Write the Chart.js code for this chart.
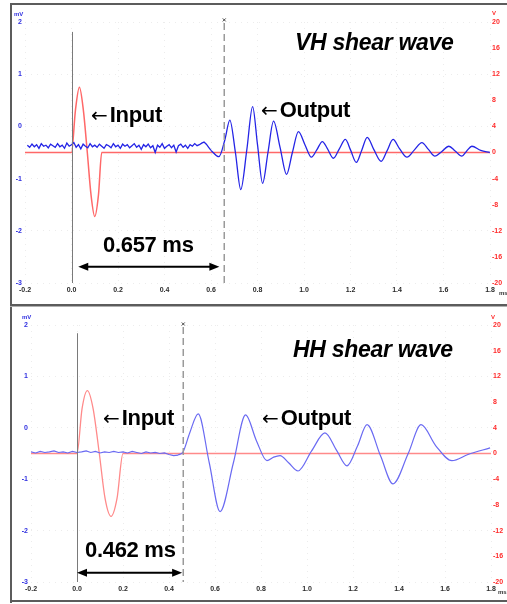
<!DOCTYPE html>
<html><head><meta charset="utf-8">
<script src="https://cdn.jsdelivr.net/npm/chart.js@4.4.0/dist/chart.umd.min.js"></script>
<style>
html,body{margin:0;padding:0;background:#fff;}
body{width:507px;height:604px;position:relative;overflow:hidden;font-family:"Liberation Sans",Arial,sans-serif;}
canvas{position:absolute;left:0;}
.frame{position:absolute;background:#5c5c5c;}
.lbl{position:absolute;white-space:nowrap;line-height:1;color:#000;font-weight:bold;letter-spacing:-0.3px;}
.lbl .ar{font-family:"DejaVu Sans",sans-serif;font-weight:normal;font-size:20px;letter-spacing:0;margin-right:2px;}
.unit{position:absolute;font-size:6px;font-weight:bold;line-height:1;white-space:nowrap;}
</style></head><body>
<canvas id="c1" width="507" height="305" style="top:0"></canvas>
<canvas id="c2" width="507" height="299" style="top:305px"></canvas>

<div class="frame" style="left:10px;top:3px;width:497px;height:2px"></div>
<div class="frame" style="left:10px;top:3px;width:2px;height:600px"></div>
<div class="frame" style="left:10px;top:304px;width:497px;height:2px"></div>
<div class="frame" style="left:10px;top:306px;width:497px;height:1px;background:#b0b0b0"></div>
<div class="frame" style="left:10px;top:600px;width:497px;height:2px"></div>

<div class="unit" style="left:14px;top:11px;color:#3030e0">mV</div>
<div class="unit" style="left:492px;top:10px;color:#ff2a2a">V</div>
<div class="unit" style="left:499px;top:290px;color:#333">ms</div>
<div class="unit" style="left:22px;top:314px;color:#3030e0">mV</div>
<div class="unit" style="left:491px;top:314px;color:#ff2a2a">V</div>
<div class="unit" style="left:498px;top:589px;color:#333">ms</div>

<div class="lbl" style="left:295px;top:31px;font-size:23px;font-style:italic">VH shear wave</div>
<div class="lbl" style="left:91px;top:104px;font-size:22px"><span class="ar">←</span>Input</div>
<div class="lbl" style="left:261px;top:99px;font-size:22px"><span class="ar">←</span>Output</div>
<div class="lbl" style="left:103px;top:234px;font-size:22px">0.657 ms</div>

<div class="lbl" style="left:293px;top:338px;font-size:23px;font-style:italic">HH shear wave</div>
<div class="lbl" style="left:103px;top:407px;font-size:22px"><span class="ar">←</span>Input</div>
<div class="lbl" style="left:262px;top:407px;font-size:22px"><span class="ar">←</span>Output</div>
<div class="lbl" style="left:85px;top:539px;font-size:22px">0.462 ms</div>

<script>
// ---- axis ticks ----
const timeTicks = [-0.2, 0, 0.2, 0.4, 0.6, 0.8, 1.0, 1.2, 1.4, 1.6, 1.8];
const timeTickLabels = ['-0.2','0.0','0.2','0.4','0.6','0.8','1.0','1.2','1.4','1.6','1.8'];
const mVTicks = [2, 1, 0, -1, -2, -3];
const mVTickLabels = ['2','1','0','-1','-2','-3'];
const vTicks = [20, 16, 12, 8, 4, 0, -4, -8, -12, -16, -20];
const vTickLabels = ['20','16','12','8','4','0','-4','-8','-12','-16','-20'];

// ---- VH shear wave ----
const vhInputT = [-0.2, 0, 0.017, 0.034, 0.051, 0.068, 0.084, 0.1, 0.116, 0.13, 1.8];
const vhInputV = [0, 0, 6.5, 10, 6.5, 0, -6.5, -9.8, -6.5, 0, 0];
const vhNoiseMV = [
 -0.36,-0.40,-0.34,-0.39,-0.35,-0.42,-0.33,-0.38,-0.36,-0.41,
 -0.34,-0.37,-0.40,-0.33,-0.39,-0.36,-0.42,-0.32,-0.38,-0.35,
 -0.31,-0.40,-0.35,-0.43,-0.34,-0.38,-0.41,-0.33,-0.39,-0.36,
 -0.40,-0.34,-0.38,-0.42,-0.35,-0.37,-0.41,-0.33,-0.39,-0.36,
 -0.42,-0.34,-0.38,-0.35,-0.41,-0.37,-0.33,-0.40,-0.36,-0.44,
 -0.35,-0.39,-0.34,-0.41,-0.37,-0.50,-0.36,-0.40,-0.33,-0.42,
 -0.38,-0.35,-0.41,-0.36,-0.49,-0.37,-0.34,-0.40,-0.36,-0.42,
 -0.35,-0.38,-0.33,-0.37,-0.35,-0.32,-0.30,-0.34,-0.40,-0.46];
const vhNoiseStart = -0.19, vhNoiseStep = 0.01;
const vhOutputT = [0.60, 0.634, 0.66, 0.681, 0.705, 0.728, 0.754, 0.779, 0.80, 0.822, 0.845, 0.869, 0.897, 0.925, 0.95, 0.976, 1.004, 1.032, 1.055, 1.079, 1.10, 1.126, 1.152, 1.178, 1.20, 1.225, 1.248, 1.272, 1.30, 1.332, 1.357, 1.383, 1.41, 1.443, 1.475, 1.507, 1.535, 1.563, 1.593, 1.623, 1.65, 1.679, 1.70, 1.722, 1.76, 1.799];
const vhOutputMV = [-0.46,-0.58,-0.25,0.12,-0.50,-1.21,-0.45,0.38,-0.35,-1.09,-0.50,0.10,-0.40,-0.92,-0.50,-0.10,-0.35,-0.59,-0.45,-0.29,-0.42,-0.61,-0.43,-0.25,-0.45,-0.69,-0.46,-0.21,-0.44,-0.67,-0.47,-0.25,-0.42,-0.59,-0.45,-0.31,-0.44,-0.57,-0.48,-0.38,-0.47,-0.57,-0.47,-0.38,-0.46,-0.50];
const vhDelay = 0.657;

// ---- HH shear wave ----
const hhInputT = [-0.2, 0, 0.022, 0.045, 0.07, 0.097, 0.122, 0.148, 0.174, 0.2, 1.8];
const hhInputV = [0, 0, 7, 9.8, 7, 0, -7, -9.8, -7, 0, 0];
const hhNoiseMV = [-0.47,-0.49,-0.46,-0.48,-0.47,-0.45,-0.48,-0.47,-0.49,-0.46,-0.48,-0.47,-0.45,-0.48,-0.46,-0.49,-0.47,-0.48,-0.46,-0.48,-0.47,-0.49,-0.46,-0.48,-0.50,-0.47,-0.49,-0.48,-0.50,-0.49,-0.52,-0.54,-0.53];
const hhNoiseStart = -0.2, hhNoiseStep = 0.02;
const hhOutputT = [0.44, 0.461, 0.49, 0.527, 0.575, 0.622, 0.68, 0.733, 0.78, 0.826, 0.855, 0.883, 0.92, 0.961, 1.02, 1.078, 1.13, 1.174, 1.22, 1.261, 1.32, 1.374, 1.44, 1.496, 1.56, 1.63, 1.70, 1.796];
const hhOutputMV = [-0.53, -0.47, -0.10, 0.27, -0.68, -1.63, -0.68, 0.25, -0.25, -0.64, -0.57, -0.54, -0.68, -0.84, -0.45, -0.10, -0.45, -0.74, -0.35, 0.06, -0.55, -1.09, -0.50, 0.06, -0.35, -0.64, -0.52, -0.39];
const hhDelay = 0.462;

function pts(ts, vs) { return ts.map((t, i) => ({x: t, y: vs[i]})); }
function gridPts(start, step, vs) { return vs.map((v, i) => ({x: +(start + i * step).toFixed(3), y: v})); }

const annot = {
  id: 'annot',
  afterDatasetsDraw(chart, args, o) {
    const {ctx, chartArea: a, scales: {x, y}} = chart;
    ctx.save();
    const xs = Math.round(x.getPixelForValue(o.solidT)) + 0.5;
    ctx.strokeStyle = '#7a7a7a'; ctx.lineWidth = 1;
    ctx.beginPath(); ctx.moveTo(xs, y.getPixelForValue(o.solidTop)); ctx.lineTo(xs, a.bottom); ctx.stroke();
    const xd = x.getPixelForValue(o.dashT);
    const yd = y.getPixelForValue(o.dashTop);
    ctx.strokeStyle = '#9a9a9a'; ctx.lineWidth = 1.5; ctx.setLineDash([7, 4]);
    ctx.beginPath(); ctx.moveTo(xd, yd + 3); ctx.lineTo(xd, a.bottom); ctx.stroke();
    ctx.setLineDash([]);
    ctx.strokeStyle = '#444'; ctx.lineWidth = 1;
    ctx.beginPath(); ctx.moveTo(xd - 1.5, yd - 1.5); ctx.lineTo(xd + 1.5, yd + 1.5);
    ctx.moveTo(xd + 1.5, yd - 1.5); ctx.lineTo(xd - 1.5, yd + 1.5); ctx.stroke();
    const ya = y.getPixelForValue(o.arrowY);
    const x1 = x.getPixelForValue(o.arrowFrom), x2 = x.getPixelForValue(o.arrowTo);
    const hl = 10, hw = 4;
    ctx.strokeStyle = '#000'; ctx.fillStyle = '#000'; ctx.lineWidth = 2;
    ctx.beginPath(); ctx.moveTo(x1 + hl - 1, ya); ctx.lineTo(x2 - hl + 1, ya); ctx.stroke();
    ctx.beginPath(); ctx.moveTo(x1, ya); ctx.lineTo(x1 + hl, ya - hw); ctx.lineTo(x1 + hl, ya + hw); ctx.closePath(); ctx.fill();
    ctx.beginPath(); ctx.moveTo(x2, ya); ctx.lineTo(x2 - hl, ya - hw); ctx.lineTo(x2 - hl, ya + hw); ctx.closePath(); ctx.fill();
    ctx.restore();
  }
};

const tickFont = {family: '"Liberation Sans", Arial, sans-serif', size: 7, weight: 'bold'};

function makeChart(id, c) {
  new Chart(document.getElementById(id), {
    type: 'line',
    data: {
      datasets: [
        {data: c.noise, yAxisID: 'y', borderColor: c.blue, borderWidth: c.blueW, tension: 0, pointRadius: 0},
        {data: c.output, yAxisID: 'y', borderColor: c.blue, borderWidth: c.blueW, cubicInterpolationMode: 'monotone', pointRadius: 0},
        {data: c.input, yAxisID: 'y2', borderColor: c.red, borderWidth: c.redW, cubicInterpolationMode: 'monotone', pointRadius: 0}
      ]
    },
    plugins: [annot],
    options: {
      responsive: false, animation: false, devicePixelRatio: 1,
      layout: {padding: {top: c.padTop, left: 0, right: 0, bottom: 0}},
      plugins: {legend: {display: false}, tooltip: {enabled: false}, annot: c.annot},
      scales: {
        x: {
          type: 'linear', min: -0.2, max: 1.8,
          afterBuildTicks: s => { s.ticks = timeTicks.map(v => ({value: v})); },
          afterFit: s => { s.height = c.xH; },
          ticks: {callback: (v, i) => timeTickLabels[i], font: tickFont, color: '#2a2a2a', padding: 3, maxRotation: 0, autoSkip: false},
          grid: {color: '#ececec', drawTicks: false},
          border: {display: false, dash: [1, 5]}
        },
        y: {
          position: 'left', min: -3, max: 2,
          afterBuildTicks: s => { s.ticks = mVTicks.map(v => ({value: v})); },
          afterFit: s => { s.width = c.leftW; },
          ticks: {callback: (v, i) => mVTickLabels[i], font: tickFont, color: '#3030e0', padding: 3, autoSkip: false},
          grid: {color: '#ececec', drawTicks: false},
          border: {display: false, dash: [1, 5]}
        },
        y2: {
          position: 'right', min: -20, max: 20,
          afterBuildTicks: s => { s.ticks = vTicks.map(v => ({value: v})); },
          afterFit: s => { s.width = c.rightW; },
          ticks: {callback: (v, i) => vTickLabels[i], font: tickFont, color: '#ff2a2a', padding: 2, autoSkip: false},
          grid: {drawOnChartArea: false, drawTicks: false},
          border: {display: false}
        }
      }
    }
  });
}

makeChart('c1', {
  noise: gridPts(vhNoiseStart, vhNoiseStep, vhNoiseMV),
  output: pts(vhOutputT, vhOutputMV),
  input: pts(vhInputT, vhInputV),
  blue: '#2424e6', blueW: 1.3, red: '#ff6868', redW: 1.5,
  padTop: 22, xH: 22, leftW: 25, rightW: 17,
  annot: {solidT: 0, solidTop: 1.81, dashT: vhDelay, dashTop: 2.04, arrowY: -2.69, arrowFrom: 0.029, arrowTo: 0.636}
});
makeChart('c2', {
  noise: gridPts(hhNoiseStart, hhNoiseStep, hhNoiseMV),
  output: pts(hhOutputT, hhOutputMV),
  input: pts(hhInputT, hhInputV),
  blue: '#6a6af2', blueW: 1.2, red: '#ff8a8a', redW: 1.3,
  padTop: 20, xH: 22, leftW: 31, rightW: 16,
  annot: {solidT: 0, solidTop: 1.84, dashT: hhDelay, dashTop: 2.02, arrowY: -2.82, arrowFrom: 0.0, arrowTo: 0.457}
});
</script>
</body></html>
